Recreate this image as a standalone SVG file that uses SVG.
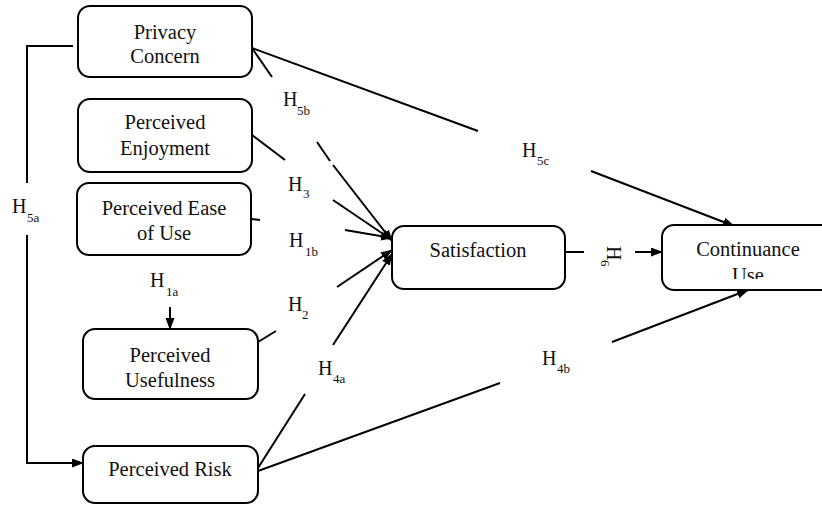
<svg xmlns="http://www.w3.org/2000/svg" width="822" height="505" viewBox="0 0 822 505" font-family="'Liberation Serif', serif">
<style>
text{font-family:'Liberation Serif',serif}
.box{fill:#fff;stroke:#000;stroke-width:2}
.t{font-size:20.5px;fill:#111;text-anchor:middle}
.h{font-size:20px;fill:#111}
.s{font-size:13px;fill:#111}
.ln{fill:none;stroke:#000;stroke-width:2}
.ar{fill:none;stroke:#000;stroke-width:2;marker-end:url(#arr)}
</style>
<defs>
<marker id="arr" markerUnits="userSpaceOnUse" markerWidth="12" markerHeight="10" refX="11" refY="4.5" orient="auto">
<path d="M0,0 L12,4.5 L0,9 z" fill="#000"/>
</marker>
<clipPath id="clipUse"><rect x="660" y="225" width="170" height="54"/></clipPath>
</defs>
<rect width="822" height="505" fill="#fff"/>

<g id="connectors">
<polyline class="ln" points="73,46 27,46 27,183"/>
<polyline class="ar" points="27,235 27,463 83,463"/>
<line class="ln" x1="252" y1="48" x2="272" y2="77"/>
<line class="ln" x1="317" y1="142" x2="330" y2="161"/>
<line class="ar" x1="333" y1="165" x2="392" y2="241"/>
<line class="ln" x1="252" y1="48" x2="478" y2="131"/>
<line class="ar" x1="591" y1="171" x2="734" y2="226"/>
<line class="ln" x1="252" y1="135" x2="285" y2="160"/>
<line class="ar" x1="333" y1="200" x2="392" y2="240"/>
<line class="ln" x1="251" y1="219" x2="260" y2="220"/>
<line class="ar" x1="345" y1="230" x2="392" y2="238"/>
<line class="ar" x1="170" y1="307" x2="170" y2="329"/>
<line class="ln" x1="258" y1="342" x2="276" y2="331"/>
<line class="ar" x1="337" y1="287" x2="392" y2="250"/>
<line class="ln" x1="258" y1="468" x2="305" y2="394"/>
<line class="ar" x1="333" y1="345" x2="392" y2="254"/>
<line class="ln" x1="258" y1="471" x2="500" y2="383"/>
<line class="ar" x1="612" y1="342" x2="748" y2="290"/>
<line class="ln" x1="565" y1="252" x2="584" y2="252"/>
<line class="ar" x1="635" y1="252" x2="662" y2="252"/>
</g>

<g id="labels">
<text class="h" x="283" y="106">H</text><text class="s" x="297" y="115">5b</text>
<text class="h" x="522" y="157">H</text><text class="s" x="537" y="165">5c</text>
<text class="h" x="288" y="191">H</text><text class="s" x="303" y="198">3</text>
<text class="h" x="289" y="247">H</text><text class="s" x="305" y="256">1b</text>
<text class="h" x="150" y="287">H</text><text class="s" x="166" y="296">1a</text>
<text class="h" x="288" y="311">H</text><text class="s" x="302" y="319">2</text>
<text class="h" x="318" y="375">H</text><text class="s" x="333" y="383">4a</text>
<text class="h" x="542" y="365">H</text><text class="s" x="557" y="373">4b</text>
<text class="h" x="12" y="213">H</text><text class="s" x="27" y="222">5a</text>
<g transform="translate(607,246) rotate(90)">
<text class="h" x="0" y="0">H</text><text class="s" x="14" y="6">6</text>
</g>
</g>

<g id="privacy-concern">
<rect class="box" x="78" y="6" width="174" height="71" rx="12"/>
<text class="t" x="165" y="39">Privacy</text>
<text class="t" x="165" y="63">Concern</text>
</g>
<g id="perceived-enjoyment">
<rect class="box" x="78" y="99" width="174" height="73" rx="12"/>
<text class="t" x="165" y="129">Perceived</text>
<text class="t" x="165" y="155">Enjoyment</text>
</g>
<g id="perceived-ease-of-use">
<rect class="box" x="77" y="183" width="174" height="72" rx="12"/>
<text class="t" x="164" y="215">Perceived Ease</text>
<text class="t" x="164" y="240">of Use</text>
</g>
<g id="perceived-usefulness">
<rect class="box" x="83" y="329" width="175" height="70" rx="12"/>
<text class="t" x="170" y="362">Perceived</text>
<text class="t" x="170" y="387">Usefulness</text>
</g>
<g id="perceived-risk">
<rect class="box" x="83" y="446" width="175" height="57" rx="12"/>
<text class="t" x="170" y="476">Perceived Risk</text>
</g>
<g id="satisfaction">
<rect class="box" x="392" y="226" width="173" height="63" rx="12"/>
<text class="t" x="478" y="257">Satisfaction</text>
</g>
<g id="continuance-use">
<rect class="box" x="662" y="225" width="172" height="65" rx="12"/>
<text class="t" x="748" y="256">Continuance</text>
<text class="t" x="748" y="282" clip-path="url(#clipUse)">Use</text>
</g>
</svg>
